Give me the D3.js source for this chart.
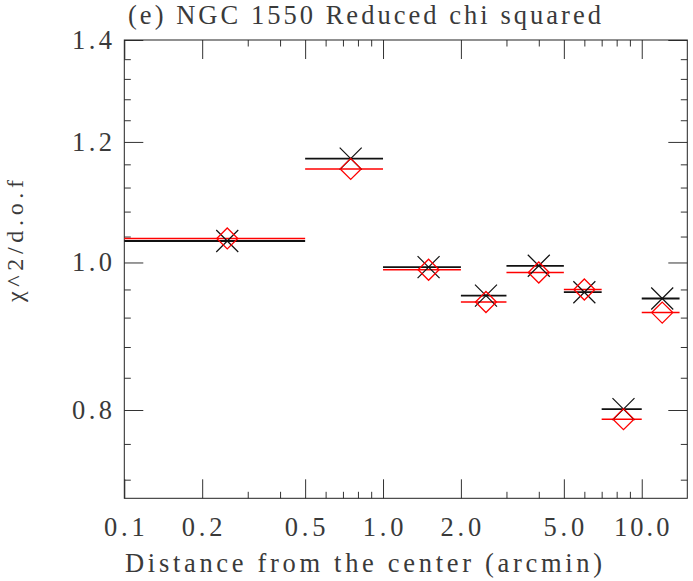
<!DOCTYPE html>
<html>
<head>
<meta charset="utf-8">
<script src="https://cdn.jsdelivr.net/npm/d3@7"></script>
<style>
  body { margin: 0; background: #fff; }
  text { font-family: "Liberation Serif", "DejaVu Serif", serif; fill: #3a3a3a; }
</style>
</head>
<body>
<div id="chart"></div>
<script>
// annuli (arcmin) and the reduced chi^2 of the two fits
const binLo = [0, 0.5, 1.0, 2.0, 3.0, 5.0, 7.0, 10.0];
const binHi = [0.5, 1.0, 2.0, 3.0, 5.0, 7.0, 10.0, 14.0];
const binMid = [0.25, 0.75, 1.5, 2.5, 4.0, 6.0, 8.5, 12.0];
const chiBlack = [1.033, 1.170, 0.993, 0.951, 0.995, 0.956, 0.801, 0.947];
const chiRed = [1.037, 1.152, 0.989, 0.942, 0.985, 0.960, 0.789, 0.927];

const xMajor = [0.1, 0.2, 0.5, 1, 2, 5, 10];
const xMajorLabels = ["0.1", "0.2", "0.5", "1.0", "2.0", "5.0", "10.0"];
const yMajor = [0.8, 1.0, 1.2, 1.4];
const yMajorLabels = ["0.8", "1.0", "1.2", "1.4"];

const config = {
    width: 693,
    height: 581,
    margin: {top: 40, right: 5.7, bottom: 82.7, left: 124.3},
    fontSize: 26.5
};

const W = config.width, H = config.height, m = config.margin;

const svg = d3.select("#chart")
    .append("svg")
    .attr("width", W)
    .attr("height", H);

let x = d3.scaleLog()
    .domain([0.1, 15])
    .range([m.left, W - m.right]);

let y = d3.scaleLog()
    .domain([0.7, 1.4])
    .range([H - m.bottom, m.top]);

// minor ticks
let xMinor = [];
[0.1, 1, 10].forEach((dec) => {
    for (let k = 1; k < 10; k++) {
        let v = +(dec * k).toFixed(3);
        if (v > 0.1 && v < 15 && xMajor.indexOf(v) < 0) xMinor.push(v);
    }
});
let yMinor = [];
for (let k = 18; k <= 34; k++) {
    let v = +(k * 0.04).toFixed(2);
    if (yMajor.indexOf(v) < 0) yMinor.push(v);
}

const majorLen = 19, minorLen = 6.5;

function tickAxis(axis, ticks, len, pos) {
    let g = svg.append("g")
        .attr("transform", pos)
        .call(axis.tickValues(ticks).tickSize(len).tickFormat(""));
    g.select(".domain").remove();
    g.selectAll(".tick line").attr("stroke", "#333").attr("stroke-width", 1);
    return g;
}

let yBot = H - m.bottom, yTop = m.top, xLeft = m.left, xRight = W - m.right;

// ticks point inward on all four sides
tickAxis(d3.axisTop(x), xMajor, majorLen, `translate(0,${yBot})`);
tickAxis(d3.axisTop(x), xMinor, minorLen, `translate(0,${yBot})`);
tickAxis(d3.axisBottom(x), xMajor, majorLen, `translate(0,${yTop})`);
tickAxis(d3.axisBottom(x), xMinor, minorLen, `translate(0,${yTop})`);
tickAxis(d3.axisRight(y), yMajor, majorLen, `translate(${xLeft},0)`);
tickAxis(d3.axisRight(y), yMinor, minorLen, `translate(${xLeft},0)`);
tickAxis(d3.axisLeft(y), yMajor, majorLen, `translate(${xRight},0)`);
tickAxis(d3.axisLeft(y), yMinor, minorLen, `translate(${xRight},0)`);

// frame
svg.append("rect")
    .attr("x", xLeft)
    .attr("y", yTop)
    .attr("width", xRight - xLeft)
    .attr("height", yBot - yTop)
    .attr("fill", "none")
    .attr("stroke", "#222")
    .attr("stroke-width", 1);

// wide-set text, like the plotting package's stroke font
function label(str, tx, ty, anchor, len, rotate, size) {
    let t = svg.append("text")
        .attr("transform", `translate(${tx},${ty})` + (rotate ? ` rotate(${rotate})` : ""))
        .attr("text-anchor", anchor)
        .style("font-size", (size || config.fontSize) + "px")
        .text(str);
    if (len) t.attr("textLength", len).attr("lengthAdjust", "spacing");
    return t;
}

xMajor.forEach((v, i) => label(xMajorLabels[i], x(v), 536, "middle", xMajorLabels[i].length * 14.6 - 3));
yMajor.forEach((v, i) => label(yMajorLabels[i], 112, y(v) + 9, "end", 40));

label("(e) NGC 1550 Reduced chi squared", 128, 24, "start", 473);
label("Distance from the center (arcmin)", 125, 571.5, "start", 477);
label("\u03c7^2/d.o.f", 23, 241, "middle", 122, -90, 24);

// data
let plot = svg.append("g");

function drawSeries(vals, color, width) {
    plot.selectAll(null)
        .data(vals)
        .enter()
        .append("line")
        .attr("x1", (d, i) => x(Math.max(binLo[i], 0.1)))
        .attr("x2", (d, i) => x(binHi[i]))
        .attr("y1", (d) => y(d))
        .attr("y2", (d) => y(d))
        .attr("stroke", color)
        .attr("stroke-width", width);
}

drawSeries(chiBlack, "#111", 1.8);
drawSeries(chiRed, "#f00", 1.5);

const cs = 11;
plot.selectAll(null)
    .data(chiBlack)
    .enter()
    .append("path")
    .attr("d", (d, i) => {
        let cx = x(binMid[i]), cy = y(d);
        return `M${cx - cs},${cy - cs}L${cx + cs},${cy + cs}M${cx - cs},${cy + cs}L${cx + cs},${cy - cs}`;
    })
    .attr("fill", "none")
    .attr("stroke", "#111")
    .attr("stroke-width", 1.2);

const ds = 10.5;
plot.selectAll(null)
    .data(chiRed)
    .enter()
    .append("path")
    .attr("d", (d, i) => {
        let cx = x(binMid[i]), cy = y(d);
        return `M${cx},${cy - ds}L${cx + ds},${cy}L${cx},${cy + ds}L${cx - ds},${cy}Z`;
    })
    .attr("fill", "none")
    .attr("stroke", "#f00")
    .attr("stroke-width", 1.3);
</script>
</body>
</html>
